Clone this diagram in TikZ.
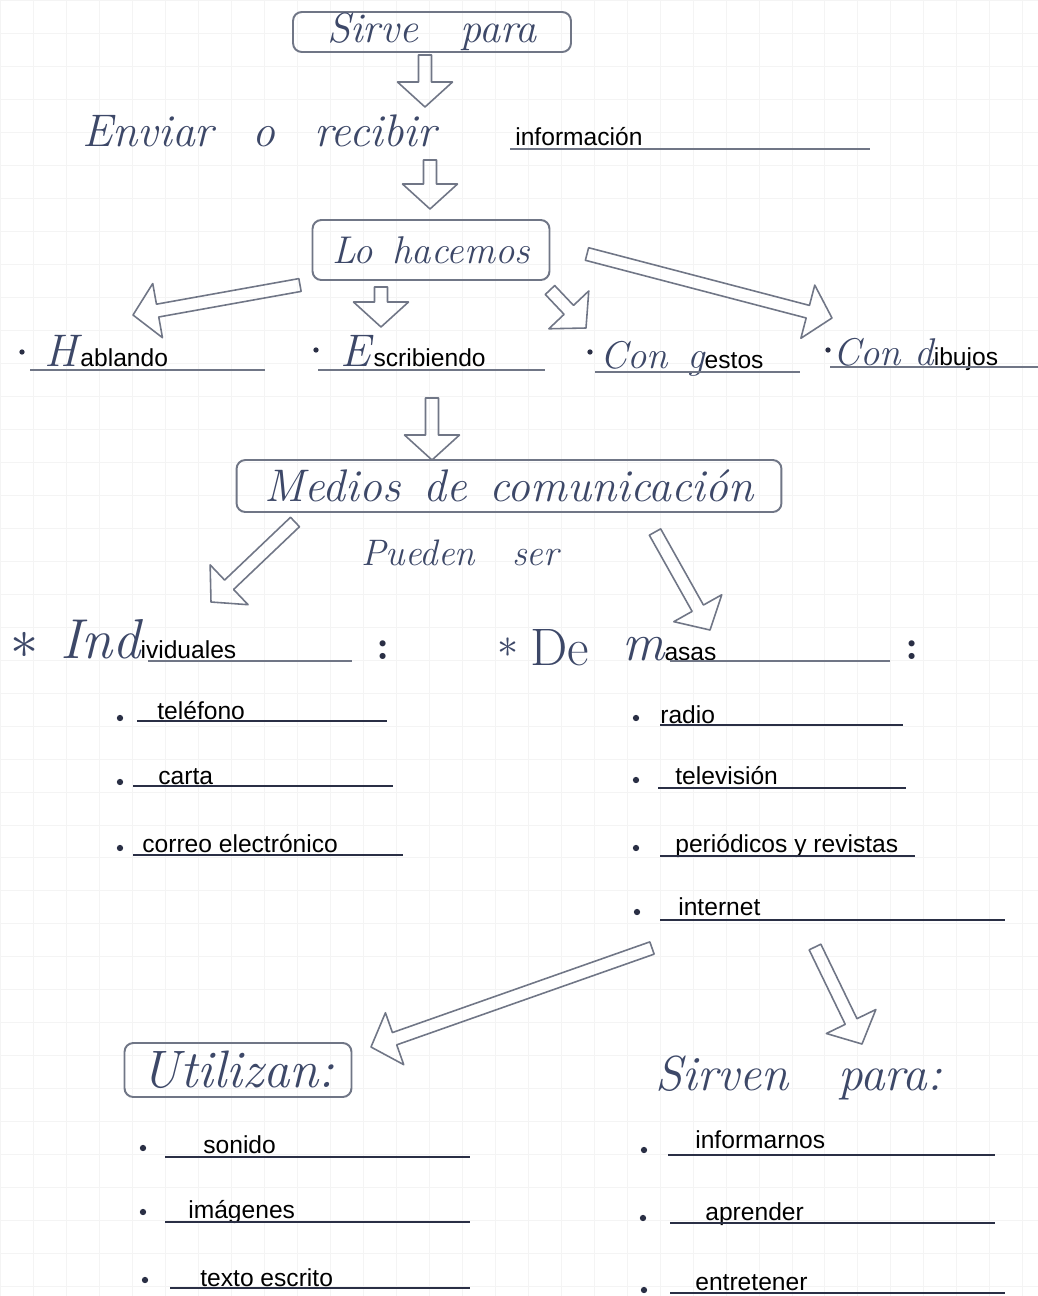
\documentclass[tikz,border=0pt]{standalone}
\usepackage{fontspec}
\newfontfamily\printfont{Liberation Sans}
\usepackage{graphicx}
\usepackage{xcolor}
\usepackage{tikz}
\usetikzlibrary{calc}

\definecolor{ink}{HTML}{3D4868}
\definecolor{pencil}{HTML}{707686}
\definecolor{dark}{HTML}{2A2F45}

\newcommand{\hand}[1][26]{\color{ink}\fontsize{#1}{#1}\selectfont\itshape}
\newcommand{\prt}{\color{black}\printfont\fontsize{14}{16}\selectfont\upshape}

\tikzset{
  handbox/.style={draw=pencil, line width=1.1pt, rounded corners=5pt, inner sep=0pt},
  item/.style={anchor=base west, inner sep=0pt},
  softrule/.style={draw=pencil, line width=0.9pt},
  darkrule/.style={draw=dark, line width=1.2pt},
  arrowline/.style={draw=pencil, line width=0.9pt, line join=round},
  dot/.style={fill=dark},
  gridline/.style={draw=gray!9, line width=0.4pt},
}

% hollow hand arrow from #1 to #2
\newcommand{\holarrow}[2]{%
  \coordinate (hh) at ($(#2)!0.5cm!(#1)$);
  \draw[arrowline] ($(#1)!0.13cm!90:(#2)$) -- ($(hh)!0.13cm!90:(#2)$) -- ($(hh)!0.55cm!90:(#2)$) -- (#2)
    -- ($(hh)!0.55cm!-90:(#2)$) -- ($(hh)!0.13cm!-90:(#2)$) -- ($(#1)!0.13cm!-90:(#2)$) -- cycle;}

\begin{document}
\begin{tikzpicture}[x=0.02cm, y=-0.02cm]
    \fill[white] (0,0) rectangle (1038,1296);
    \useasboundingbox (0,0) rectangle (1038,1296);
    \draw[gridline, step=0.66cm] (0,0) grid (1038,1296);

    \node[handbox, minimum width=5.56cm, minimum height=0.8cm] (sirve) at (432,32) {\hand[24]Sirve\quad para};
    \node[item] (enviar) at (82,146) {\hand Enviar\enspace\ o\enspace\ recibir};
    \node[item] (info) at (515,145) {\prt información};
    \node[handbox, minimum width=4.74cm, minimum height=1.2cm] (hacemos) at (431,250) {\hand[22]Lo\enspace hacemos};

    \node[item] (hablando) at (44,366) {{\hand H}\,{\prt ablando}};
    \node[item] (escribiendo) at (340,366) {{\hand E}\,{\prt scribiendo}};
    \node[item] (gestos) at (600,368) {{\hand[22]Con\enspace g}{\prt estos}};
    \node[item] (dibujos) at (833,365) {{\hand[22]Con\ d}{\prt ibujos}};

    \node[handbox, minimum width=10.9cm, minimum height=1.04cm] (medios) at (509,486) {\hand Medios\enspace de\enspace comunicación};
    \node (pueden) at (460,553) {\hand[21]Pueden\quad ser};

    \node (ast1) at (25,645) {\color{ink}\scalebox{3.2}{$\ast$}};
    \node[item] (indiv) at (60,658) {{\hand[32]Ind}{\prt ividuales}};
    \node (colon1) at (383,650) {\color{dark}\fontsize{24}{24}\selectfont\bfseries :};
    \node (ast2) at (508,648) {\color{ink}\scalebox{2.4}{$\ast$}};
    \node[item] (de) at (530,665) {\hand[30]\upshape De};
    \node[item] (masas) at (622,660) {{\hand[30]m}{\prt asas}};
    \node (colon2) at (912,650) {\color{dark}\fontsize{24}{24}\selectfont\bfseries :};

    \node[item] (telefono) at (157,719) {\prt teléfono};
    \node[item] (carta) at (158,784) {\prt carta};
    \node[item] (correo) at (142,852) {\prt correo electrónico};
    \node[item] (radio) at (660,723) {\prt radio};
    \node[item] (tele) at (675,784) {\prt televisión};
    \node[item] (periodicos) at (675,852) {\prt periódicos y revistas};
    \node[item] (internet) at (678,915) {\prt internet};

    \node[handbox, minimum width=4.54cm, minimum height=1.08cm] (utilizan) at (238,1070) {\hand[30]Utilizan:};
    \node[item] (sirven) at (655,1090) {\hand[28]Sirven\quad para:};

    \node[item] (sonido) at (203,1153) {\prt sonido};
    \node[item] (imagenes) at (188,1218) {\prt imágenes};
    \node[item] (texto) at (200,1286) {\prt texto escrito};
    \node[item] (informarnos) at (695,1148) {\prt informarnos};
    \node[item] (aprender) at (705,1220) {\prt aprender};
    \node[item] (entretener) at (695,1290) {\prt entretener};

    % underlines
    \draw[softrule] (510,149) -- (870,149);
    \draw[softrule] (30,370) -- (265,370);
    \draw[softrule] (318,370) -- (545,370);
    \draw[softrule] (595,372) -- (800,372);
    \draw[softrule] (830,367) -- (1038,367);
    \draw[softrule] (148,661) -- (352,661);
    \draw[softrule] (670,661) -- (890,661);
    \draw[darkrule] (137,721) -- (387,721);
    \draw[darkrule] (133,786) -- (393,786);
    \draw[darkrule] (133,855) -- (403,855);
    \draw[darkrule] (660,725) -- (903,725);
    \draw[darkrule] (658,788) -- (906,788);
    \draw[darkrule] (660,856) -- (915,856);
    \draw[darkrule] (660,920) -- (1005,920);
    \draw[darkrule] (165,1157) -- (470,1157);
    \draw[darkrule] (165,1222) -- (470,1222);
    \draw[darkrule] (170,1288) -- (470,1288);
    \draw[darkrule] (668,1155) -- (995,1155);
    \draw[darkrule] (670,1223) -- (995,1223);
    \draw[darkrule] (670,1293) -- (1005,1293);

    % bullets
    \fill[dot] (22,352) circle (1.5pt);
    \fill[dot] (316,350) circle (1.5pt);
    \fill[dot] (590,352) circle (1.5pt);
    \fill[dot] (828,350) circle (1.5pt);
    \fill[dot] (120,718) circle (1.8pt);
    \fill[dot] (120,782) circle (1.8pt);
    \fill[dot] (120,848) circle (1.8pt);
    \fill[dot] (636,718) circle (1.8pt);
    \fill[dot] (636,780) circle (1.8pt);
    \fill[dot] (636,848) circle (1.8pt);
    \fill[dot] (637,912) circle (1.8pt);
    \fill[dot] (143,1148) circle (1.8pt);
    \fill[dot] (143,1212) circle (1.8pt);
    \fill[dot] (145,1280) circle (1.8pt);
    \fill[dot] (644,1150) circle (1.8pt);
    \fill[dot] (643,1218) circle (1.8pt);
    \fill[dot] (644,1290) circle (1.8pt);

    % arrow ends
    \coordinate (s1) at (425,55);   \coordinate (e1) at (425,107);
    \coordinate (s2) at (430,160);  \coordinate (e2) at (430,209);
    \coordinate (s3) at (300,285);  \coordinate (e3) at (133,315);
    \coordinate (s4) at (381,287);  \coordinate (e4) at (381,327);
    \coordinate (s5) at (550,290);  \coordinate (e5) at (586,328);
    \coordinate (s6) at (587,254);  \coordinate (e6) at (832,318);
    \coordinate (s7) at (432,398);  \coordinate (e7) at (432,460);
    \coordinate (s8) at (295,522);  \coordinate (e8) at (211,602);
    \coordinate (s9) at (655,532);  \coordinate (e9) at (710,630);
    \coordinate (s10) at (652,948); \coordinate (e10) at (371,1047);
    \coordinate (s11) at (815,947); \coordinate (e11) at (862,1044);

    \holarrow{s1}{e1}
    \holarrow{s2}{e2}
    \holarrow{s3}{e3}
    \holarrow{s4}{e4}
    \holarrow{s5}{e5}
    \holarrow{s6}{e6}
    \holarrow{s7}{e7}
    \holarrow{s8}{e8}
    \holarrow{s9}{e9}
    \holarrow{s10}{e10}
    \holarrow{s11}{e11}
\end{tikzpicture}
\end{document}
